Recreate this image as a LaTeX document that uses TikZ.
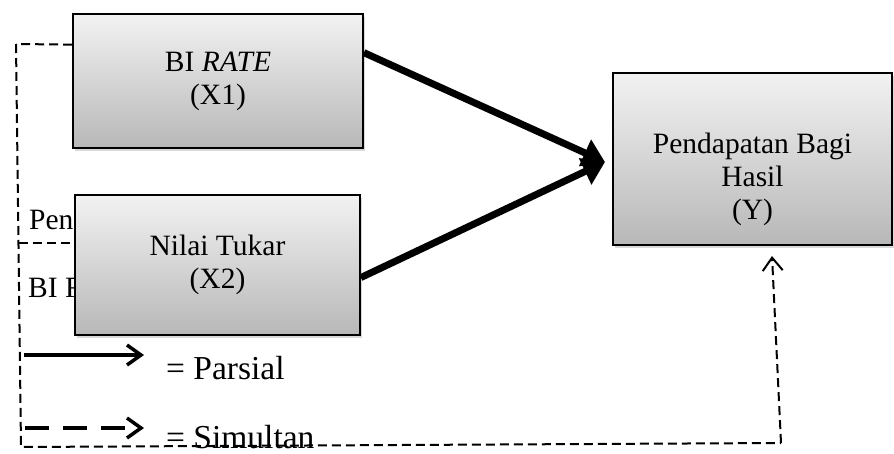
\documentclass[tikz,border=0pt]{standalone}
\usepackage{fontspec}
\setmainfont{Liberation Serif}
\usetikzlibrary{arrows.meta, shadows, positioning}

\tikzset{
  varbox/.style={draw=black, line width=1.8pt, top color=black!5, bottom color=black!28,
    drop shadow={shadow xshift=2pt, shadow yshift=-3pt, opacity=0.3},
    align=center, inner sep=0pt, font=\fontsize{29.5}{33}\selectfont},
  boxtext/.style={align=center, inner sep=0pt, font=\fontsize{29.5}{33}\selectfont},
  parsial/.style={line width=7pt, -{Triangle[length=22pt,width=28pt]}},
  simultan/.style={line width=2pt, dash pattern=on 9pt off 5pt,
    -{Straight Barb[length=13pt,width=20pt,line width=2pt]}},
  legtext/.style={anchor=base west, inner sep=0pt, font=\fontsize{33.5}{38}\selectfont},
}

\begin{document}
\begin{tikzpicture}[x=1pt, y=-1pt]
\useasboundingbox (0,0) rectangle (894,453);

% corners of the simultaneous path
\coordinate (c1) at (16,44);
\coordinate (c2) at (21,447);
\coordinate (c3) at (781,443);
\coordinate (c4) at (772,256);
\coordinate (cb) at (18.5,243);
\coordinate (tip) at (605,162);

% hidden labels behind X2
\node[boxtext, anchor=base west] (pen) at (29,229) {Pen};
\node[boxtext, anchor=base west] (bir) at (28,297) {BI R};

% dashed simultaneous lines
\draw[simultan, -] (c1) -- (c2) -- (c3);
\draw[simultan] (c3) -- (c4);
\draw[simultan, -] (cb) -- (75,243);

% variables
\node[varbox, minimum width=290pt, minimum height=134pt] (x1) at (218,81) {BI \textit{RATE}\\(X1)};
\node[varbox, minimum width=285pt, minimum height=140pt] (x2) at (217.5,265) {Nilai Tukar\\(X2)};
\node[varbox, minimum width=279pt, minimum height=172pt] (y) at (752.5,159) {};
\node[boxtext] (ytext) at (752.5,179) {Pendapatan Bagi\\Hasil\\(Y)};

\draw[simultan, -] (x1.166) -- (c1);

% partial arrows
\draw[parsial] (x1.11) -- (tip);
\draw[parsial] (x2.-5) -- (tip);

% legend
\coordinate (l1a) at (24,355);
\coordinate (l1b) at (144,355);
\coordinate (l2a) at (25,428);
\coordinate (l2b) at (144,428);
\draw[line width=3.5pt, -{Straight Barb[length=14pt,width=20pt,line width=3.5pt]}] (l1a) -- (l1b);
\draw[line width=3.5pt, dash pattern=on 24pt off 14pt, -{Straight Barb[length=14pt,width=20pt,line width=3.5pt]}] (l2a) -- (l2b);
\node[legtext] (lp) at (166,379) {= Parsial};
\node[legtext] (ls) at (166,448) {= Simultan};
\end{tikzpicture}
\end{document}
